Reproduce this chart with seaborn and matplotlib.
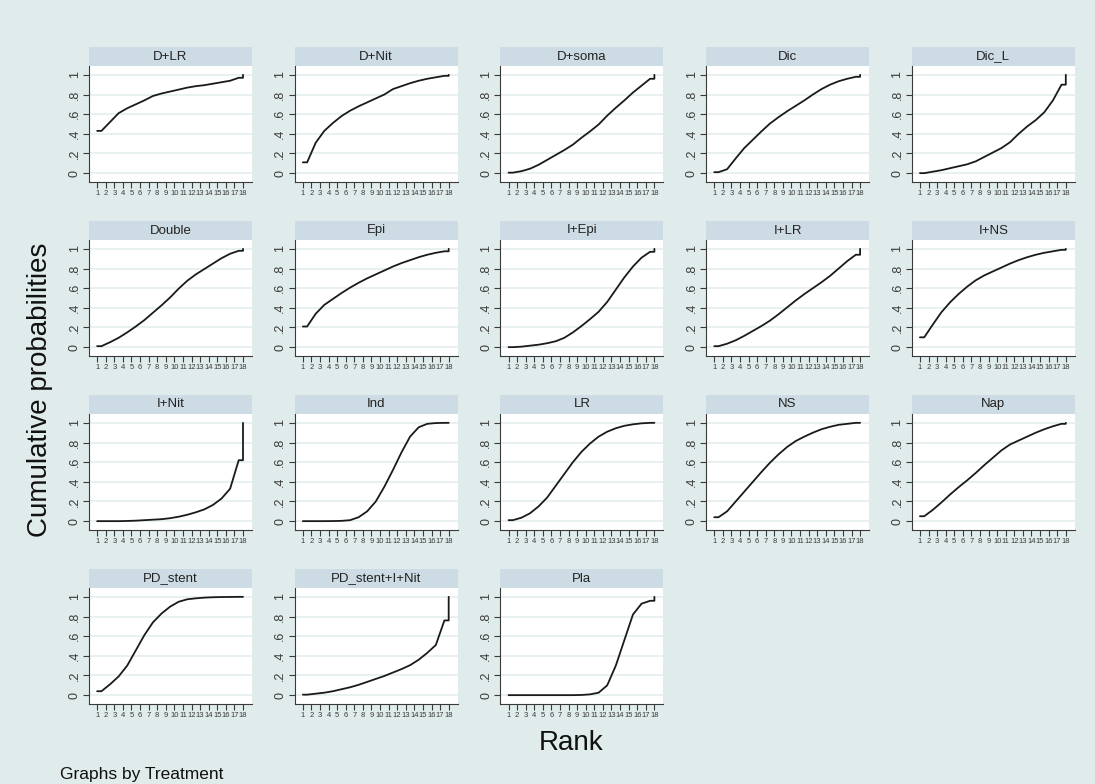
import matplotlib
matplotlib.use("Agg")
import matplotlib.pyplot as plt
from matplotlib.patches import Rectangle
import numpy as np
import seaborn as sns

# cumulative probability of being at rank <= k, k = 1..17 (rank 18 is always 1)
treatments = ["D+LR", "D+Nit", "D+soma", "Dic", "Dic_L",
              "Double", "Epi", "I+Epi", "I+LR", "I+NS",
              "I+Nit", "Ind", "LR", "NS", "Nap",
              "PD_stent", "PD_stent+I+Nit", "Pla"]

d_lr = [0.43, 0.52, 0.61, 0.66, 0.70, 0.74, 0.785, 0.81, 0.83, 0.85, 0.87, 0.885, 0.895, 0.91, 0.925, 0.94, 0.97]
d_nit = [0.11, 0.31, 0.43, 0.51, 0.58, 0.635, 0.68, 0.72, 0.76, 0.80, 0.855, 0.885, 0.915, 0.94, 0.96, 0.975, 0.99]
d_soma = [0.005, 0.02, 0.045, 0.085, 0.135, 0.185, 0.235, 0.29, 0.36, 0.425, 0.495, 0.585, 0.665, 0.74, 0.82, 0.89, 0.96]
dic = [0.01, 0.04, 0.15, 0.255, 0.34, 0.425, 0.505, 0.57, 0.63, 0.685, 0.74, 0.80, 0.855, 0.90, 0.935, 0.96, 0.98]
dic_l = [0.0, 0.015, 0.03, 0.05, 0.07, 0.09, 0.12, 0.165, 0.21, 0.255, 0.315, 0.40, 0.475, 0.54, 0.62, 0.74, 0.90]
double = [0.01, 0.05, 0.095, 0.15, 0.21, 0.275, 0.35, 0.425, 0.505, 0.595, 0.675, 0.74, 0.795, 0.85, 0.905, 0.95, 0.98]
epi = [0.21, 0.34, 0.43, 0.49, 0.55, 0.605, 0.655, 0.70, 0.74, 0.78, 0.82, 0.855, 0.885, 0.915, 0.94, 0.96, 0.975]
i_epi = [0.0, 0.005, 0.015, 0.025, 0.04, 0.06, 0.095, 0.15, 0.215, 0.285, 0.36, 0.46, 0.585, 0.71, 0.82, 0.91, 0.97]
i_lr = [0.01, 0.035, 0.07, 0.115, 0.165, 0.215, 0.27, 0.335, 0.405, 0.475, 0.54, 0.60, 0.66, 0.725, 0.80, 0.875, 0.94]
i_ns = [0.10, 0.23, 0.355, 0.455, 0.54, 0.615, 0.68, 0.73, 0.77, 0.81, 0.85, 0.885, 0.915, 0.94, 0.96, 0.975, 0.99]
i_nit = [0.0, 0.0, 0.0, 0.002, 0.005, 0.01, 0.015, 0.02, 0.03, 0.045, 0.065, 0.09, 0.12, 0.165, 0.23, 0.33, 0.62]
ind = [0.0, 0.0, 0.0, 0.001, 0.003, 0.01, 0.04, 0.10, 0.20, 0.35, 0.52, 0.70, 0.86, 0.955, 0.99, 0.998, 1.0]
lr = [0.01, 0.035, 0.08, 0.15, 0.24, 0.36, 0.48, 0.60, 0.705, 0.79, 0.86, 0.91, 0.945, 0.97, 0.985, 0.995, 1.0]
ns = [0.04, 0.10, 0.20, 0.30, 0.40, 0.50, 0.595, 0.68, 0.755, 0.815, 0.86, 0.90, 0.935, 0.96, 0.98, 0.99, 1.0]
nap = [0.05, 0.115, 0.19, 0.27, 0.345, 0.415, 0.49, 0.57, 0.645, 0.72, 0.78, 0.82, 0.86, 0.90, 0.935, 0.965, 0.99]
pd_stent = [0.04, 0.11, 0.19, 0.30, 0.455, 0.61, 0.74, 0.83, 0.90, 0.95, 0.975, 0.985, 0.992, 0.996, 0.998, 0.999, 1.0]
pd_i_nit = [0.005, 0.015, 0.025, 0.04, 0.06, 0.08, 0.105, 0.135, 0.165, 0.195, 0.23, 0.265, 0.305, 0.36, 0.43, 0.51, 0.76]
pla = [0.0, 0.0, 0.0, 0.0, 0.0, 0.0, 0.0, 0.0, 0.002, 0.008, 0.025, 0.10, 0.30, 0.56, 0.82, 0.93, 0.96]

series = [d_lr, d_nit, d_soma, dic, dic_l, double, epi, i_epi, i_lr, i_ns,
          i_nit, ind, lr, ns, nap, pd_stent, pd_i_nit, pla]

ranks = np.arange(1, 19)
ytick_vals = [0, 0.2, 0.4, 0.6, 0.8, 1]
ytick_labels = ["0", ".2", ".4", ".6", ".8", "1"]

BG = "#e0ebec"
HEAD = "#cddce4"
GRID = "#e4edef"
INK = "#3a3a3a"

sns.set_theme(style="white")
plt.rcParams["font.family"] = ["Liberation Sans", "DejaVu Sans"]

W, H = 1095, 784
fig = plt.figure(figsize=(W / 100, H / 100), dpi=100, facecolor=BG)

pw, ph, head_h = 163, 116, 19
for i, (name, vals) in enumerate(zip(treatments, series)):
    row, col = divmod(i, 5)
    left = 89 + col * 205.7
    top = 66 + row * 174
    ax = fig.add_axes([left / W, 1 - (top + ph) / H, pw / W, ph / H])
    ax.set_facecolor("white")

    v = np.asarray(vals)
    # Stata-style step ends: value k drawn at k + 0.5, final jump at rank 18
    xs = np.r_[ranks[0], ranks[:-1] + 0.5, ranks[-1], ranks[-1]]
    ys = np.r_[v[0], v, v[-1], 1.0]
    sns.lineplot(x=xs, y=ys, ax=ax, sort=False, estimator=None,
                 color="#1a1a1a", linewidth=1.3)

    ax.set_xlim(0.05, 19.05)
    ax.set_ylim(-0.09, 1.09)
    ax.set_yticks(ytick_vals)
    ax.set_yticklabels(ytick_labels, rotation=90, va="center", fontsize=9, color=INK)
    ax.set_xticks(ranks)
    ax.set_xticklabels([str(r) for r in ranks], fontsize=5.5, color=INK)
    ax.tick_params(axis="both", direction="out", length=4, width=0.8, color=INK, pad=2,
                   left=True, bottom=True)
    ax.tick_params(axis="x", pad=1.5)
    for y in ytick_vals:
        ax.axhline(y, color=GRID, linewidth=1.2, zorder=0)
    for side in ["top", "right"]:
        ax.spines[side].set_visible(False)
    for side in ["left", "bottom"]:
        ax.spines[side].set_color(INK)
        ax.spines[side].set_linewidth(0.8)
    ax.set_xlabel("")
    ax.set_ylabel("")

    ax.add_patch(Rectangle((0, 1), 1, head_h / ph, transform=ax.transAxes,
                           facecolor=HEAD, edgecolor="none", clip_on=False))
    ax.text(0.5, 1 + head_h / ph / 2, name, transform=ax.transAxes,
            ha="center", va="center", fontsize=9.5, color="#222222")

fig.text(40 / W, 1 - 390 / H, "Cumulative probabilities", rotation=90,
         ha="center", va="center", fontsize=20, color="#111111")
fig.text(571 / W, 1 - 743 / H, "Rank", ha="center", va="center",
         fontsize=20, color="#111111")
fig.text(60 / W, 1 - 774 / H, "Graphs by Treatment", ha="left", va="center",
         fontsize=12.5, color="#111111")

fig.savefig("out.png", dpi=100, facecolor=BG)
